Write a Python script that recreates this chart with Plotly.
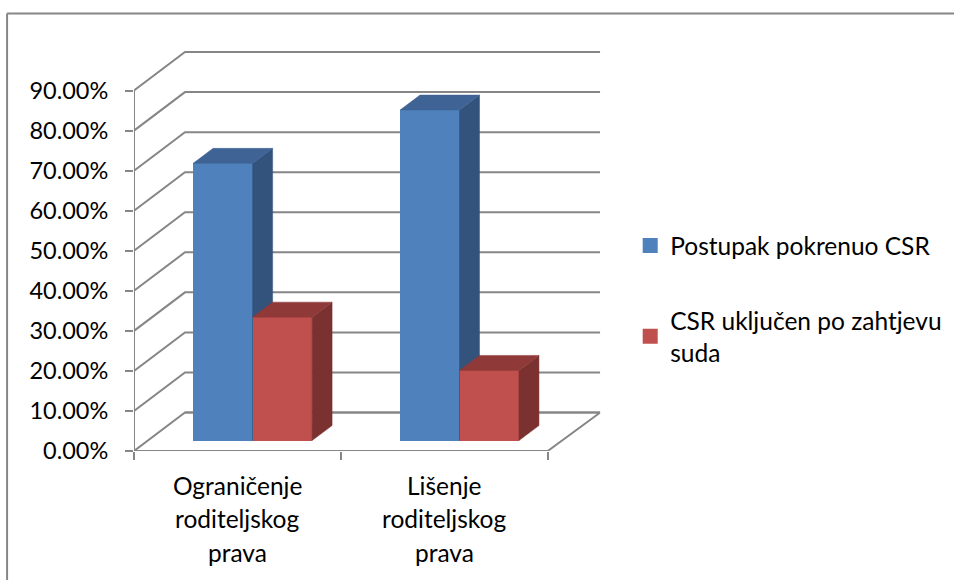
import plotly.graph_objects as go

# --- data ---
category_lines = [["Ograničenje", "roditeljskog", "prava"], ["Lišenje", "roditeljskog", "prava"]]
series_names = ["Postupak pokrenuo CSR", "CSR uključen po zahtjevu<br>suda"]
blue_values = [0.692, 0.825]
red_values = [0.308, 0.175]
y_ticks = [0.0, 0.1, 0.2, 0.3, 0.4, 0.5, 0.6, 0.7, 0.8, 0.9]

# --- styling / projection ---
BLUE = ("#4F81BD", "#33537D", "#3E6394")  # front, side, top
RED = ("#C0504D", "#7A3130", "#8F3A38")
GRID = "#868686"
FONT = "Lato"
FS = 24.5

PX_X, PX_Y = 207.0, 400.5     # pixels per x unit / per 1.0 value
L, R, T, B = 133.5, 600.0, 51.0, 451.0
WALL_DX, WALL_DY = 51 / PX_X, 38.5 / PX_Y
BAR_DX, BAR_DY = 20 / PX_X, 15 / PX_Y
BAR_W = 59.5 / PX_X
FRONT_DY = 10.5 / PX_Y   # floor offset of the bar front
BAR_START = 59.2 / PX_X
X_MAX = (R - L) / PX_X
Y_MAX = (B - T) / PX_Y
n = len(blue_values)


def paper_x(px):
    return (px - L) / (954 - L)


def paper_y(py):
    return (B - py) / (B - T)


fig = go.Figure()


def line(xs, ys, yaxis="y", width=2):
    fig.add_trace(go.Scatter(x=xs, y=ys, mode="lines", yaxis=yaxis, showlegend=False, hoverinfo="skip",
                             line=dict(color=GRID, width=width)))


# back wall, floor, axis
for v in y_ticks:
    line([0, WALL_DX, X_MAX], [v, v + WALL_DY, v + WALL_DY])
line([0, 0], [0, y_ticks[-1]])
line([0, n, X_MAX, WALL_DX], [0, 0, WALL_DY, WALL_DY])


def poly(xs, ys, color, yaxis):
    fig.add_trace(go.Scatter(x=xs, y=ys, mode="lines", fill="toself", fillcolor=color, yaxis=yaxis,
                             line=dict(color=color, width=0.5), showlegend=False, hoverinfo="skip"))


def column(values, first_col, colors, yaxis, name):
    lefts = [i + BAR_START + first_col * BAR_W for i in range(n)]
    fig.add_trace(go.Bar(x=[l + BAR_W / 2 for l in lefts], y=values, base=FRONT_DY, width=BAR_W, yaxis=yaxis,
                         marker=dict(color=colors[0], line=dict(width=0)), showlegend=False,
                         name=name.replace("<br>", " ")))
    for l, v in zip(lefts, values):
        r, b, t = l + BAR_W, FRONT_DY, FRONT_DY + v
        poly([r, r + BAR_DX, r + BAR_DX, r, r], [b, b + BAR_DY, t + BAR_DY, t, b], colors[1], yaxis)
        poly([l, l + BAR_DX, r + BAR_DX, r, l], [t, t + BAR_DY, t + BAR_DY, t, t], colors[2], yaxis)


column(blue_values, 0, BLUE, "y2", series_names[0])
column(red_values, 1, RED, "y3", series_names[1])

# legend entries
for i, (nm, c) in enumerate(zip(series_names, (BLUE[0], RED[0]))):
    fig.add_trace(go.Scatter(x=[None], y=[None], mode="markers", name=nm, legendgroup=f"g{i}",
                             marker=dict(symbol="square", size=15, color=c)))

# category labels, line by line
for i, lines in enumerate(category_lines):
    for j, txt in enumerate(lines):
        fig.add_annotation(x=i + 0.5, xref="x", y=paper_y(485 + j * 33.5), yref="paper",
                           text=txt, showarrow=False, yanchor="middle", xanchor="center",
                           font=dict(family=FONT, size=FS, color="black"))

# chart border (open to the right and below)
fig.add_shape(type="line", xref="paper", yref="paper", x0=paper_x(6.5), x1=paper_x(954),
              y0=paper_y(13.5), y1=paper_y(13.5), line=dict(color=GRID, width=2))
fig.add_shape(type="line", xref="paper", yref="paper", x0=paper_x(6.5), x1=paper_x(6.5),
              y0=paper_y(13.5), y1=paper_y(580), line=dict(color=GRID, width=2))

yax_common = dict(range=[0, Y_MAX], showgrid=False, zeroline=False)
fig.update_layout(
    width=954, height=580, autosize=False,
    margin=dict(l=L, r=0, t=T, b=580 - B, pad=0),
    paper_bgcolor="white", plot_bgcolor="rgba(0,0,0,0)",
    barmode="overlay", bargap=0,
    font=dict(family=FONT, size=FS, color="black"),
    xaxis=dict(domain=[0, paper_x(R)], range=[0, X_MAX], showgrid=False, zeroline=False, showline=False,
               tickmode="array", tickvals=[], ticks="",
               minor=dict(tickmode="array", tickvals=list(range(n + 1)), ticks="outside", ticklen=8,
                          tickwidth=2, tickcolor=GRID)),
    yaxis=dict(**yax_common, tickmode="array", tickvals=y_ticks, tickformat=".2%", ticks="outside",
               ticklen=8, tickwidth=2, tickcolor=GRID, ticklabelstandoff=12,
               tickfont=dict(family=FONT, size=23.5, color="black")),
    yaxis2=dict(**yax_common, overlaying="y", visible=False),
    yaxis3=dict(**yax_common, overlaying="y", visible=False),
    legend=dict(x=paper_x(630), y=paper_y(223), xanchor="left", yanchor="top",
                traceorder="grouped", tracegroupgap=40, itemsizing="trace", itemclick=False,
                bgcolor="rgba(0,0,0,0)", font=dict(family=FONT, size=FS, color="black")),
)

fig.write_html("out.html", config={"displayModeBar": False},
               post_script="document.body.style.margin='0';document.documentElement.style.overflow='hidden';")
